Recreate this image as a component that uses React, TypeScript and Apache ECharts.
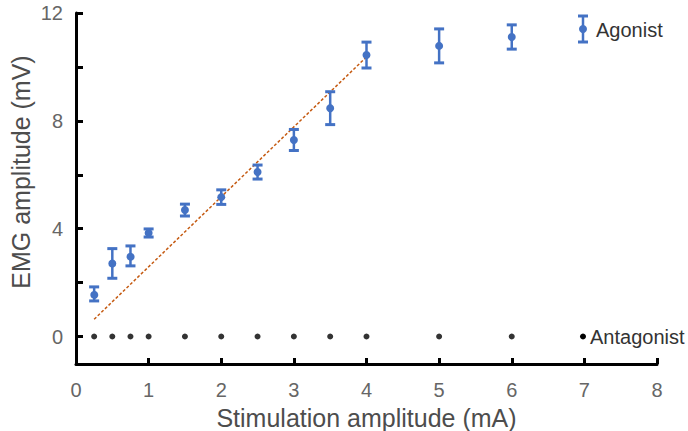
import React, { useEffect, useRef } from "react";
import * as echarts from "echarts";

const stimX = [0.25, 0.5, 0.75, 1, 1.5, 2, 2.5, 3, 3.5, 4, 5, 6];
const agonistMean = [1.58, 2.71, 2.99, 3.84, 4.69, 5.17, 6.1, 7.29, 8.47, 10.44, 10.78, 11.11];
const agonistErr = [0.26, 0.55, 0.37, 0.15, 0.22, 0.27, 0.26, 0.39, 0.61, 0.48, 0.63, 0.45];
const antagonistMean = [0, 0, 0, 0, 0, 0, 0, 0, 0, 0, 0, 0];
const trendX = [0.25, 4];
const trendY = [0.64, 10.37];
const yTicks = [0, 2, 4, 6, 8, 10, 12];
const yLabels = [0, 4, 8, 12];

const BLUE = "#4472C4";
const FONT = "Liberation Sans";

export default function App() {
  const ref = useRef<HTMLDivElement>(null);
  useEffect(() => {
    document.body.style.margin = "0";
    if (!ref.current) return;
    const chart = echarts.init(ref.current, undefined, { renderer: "svg" });
    const errData = stimX.map((x, i) => [x, agonistMean[i], agonistErr[i]]);
    const antData = stimX.map((x, i) => [x, antagonistMean[i]]);
    const trendData = trendX.map((x, i) => [x, trendY[i]]);
    chart.setOption({
      animation: false,
      grid: { left: 76, right: 31, top: 13, bottom: 67, outerBoundsMode: "none", containLabel: false },
      xAxis: {
        type: "value",
        min: 0,
        max: 8,
        interval: 1,
        name: "Stimulation amplitude (mA)",
        nameLocation: "middle",
        nameGap: 41,
        nameTextStyle: { fontFamily: FONT, fontSize: 25, color: "#4d4d4d" },
        axisLine: { onZero: false, lineStyle: { color: "#000", width: 3 } },
        axisTick: { inside: true, length: 6, lineStyle: { color: "#000", width: 3 } },
        axisLabel: { margin: 16, fontFamily: FONT, fontSize: 20, color: "#666" },
        splitLine: { show: false },
      },
      yAxis: {
        type: "value",
        min: -1.02,
        max: 12,
        axisLine: { onZero: false, lineStyle: { color: "#000", width: 3 } },
        axisTick: {
          inside: true,
          length: 7,
          customValues: yTicks,
          lineStyle: { color: "#000", width: 3 },
        },
        axisLabel: {
          customValues: yLabels,
          margin: 13,
          fontFamily: FONT,
          fontSize: 20,
          color: "#666",
        },
        splitLine: { show: false },
      },
      series: [
        {
          name: "Trend",
          type: "line",
          data: trendData,
          symbol: "none",
          lineStyle: { color: "#C55A11", width: 1.5, type: [3, 2] },
          z: 1,
        },
        {
          name: "Antagonist",
          type: "scatter",
          data: antData,
          symbol: "circle",
          symbolSize: 6,
          itemStyle: { color: "#000" },
          z: 3,
        },
        {
          name: "Agonist",
          type: "custom",
          data: errData,
          z: 4,
          renderItem: (params: any, api: any) => {
            const x = api.value(0);
            const y = api.value(1);
            const e = api.value(2);
            const c = api.coord([x, y]);
            const hi = api.coord([x, y + e]);
            const lo = api.coord([x, y - e]);
            const st = { stroke: BLUE, lineWidth: 3 };
            return {
              type: "group",
              children: [
                { type: "line", shape: { x1: c[0], y1: hi[1], x2: c[0], y2: lo[1] }, style: { ...st, lineWidth: 2.5 } },
                { type: "line", shape: { x1: c[0] - 5, y1: hi[1], x2: c[0] + 5, y2: hi[1] }, style: st },
                { type: "line", shape: { x1: c[0] - 5, y1: lo[1], x2: c[0] + 5, y2: lo[1] }, style: st },
                { type: "circle", shape: { cx: c[0], cy: c[1], r: 4 }, style: { fill: BLUE } },
              ],
            };
          },
        },
      ],
      graphic: [
        {
          type: "text",
          x: 21,
          y: 172,
          rotation: Math.PI / 2,
          style: {
            text: "EMG amplitude (mV)",
            fontFamily: FONT,
            fontSize: 25,
            fill: "#4d4d4d",
            align: "center",
            verticalAlign: "middle",
          },
        },
        { type: "line", shape: { x1: 583, y1: 16, x2: 583, y2: 42 }, style: { stroke: BLUE, lineWidth: 2.5 } },
        { type: "line", shape: { x1: 578, y1: 16, x2: 588, y2: 16 }, style: { stroke: BLUE, lineWidth: 3 } },
        { type: "line", shape: { x1: 578, y1: 42, x2: 588, y2: 42 }, style: { stroke: BLUE, lineWidth: 3 } },
        { type: "circle", shape: { cx: 583, cy: 29, r: 4 }, style: { fill: BLUE } },
        {
          type: "text",
          x: 596,
          y: 30,
          style: { text: "Agonist", fontFamily: FONT, fontSize: 20, fill: "#333", verticalAlign: "middle", align: "left" },
        },
        { type: "circle", shape: { cx: 583, cy: 336.5, r: 3 }, style: { fill: "#000" } },
        {
          type: "text",
          x: 590,
          y: 337,
          style: { text: "Antagonist", fontFamily: FONT, fontSize: 20, fill: "#333", verticalAlign: "middle", align: "left" },
        },
      ],
    });
    return () => chart.dispose();
  }, []);
  return <div ref={ref} style={{ width: 688, height: 431 }} />;
}
